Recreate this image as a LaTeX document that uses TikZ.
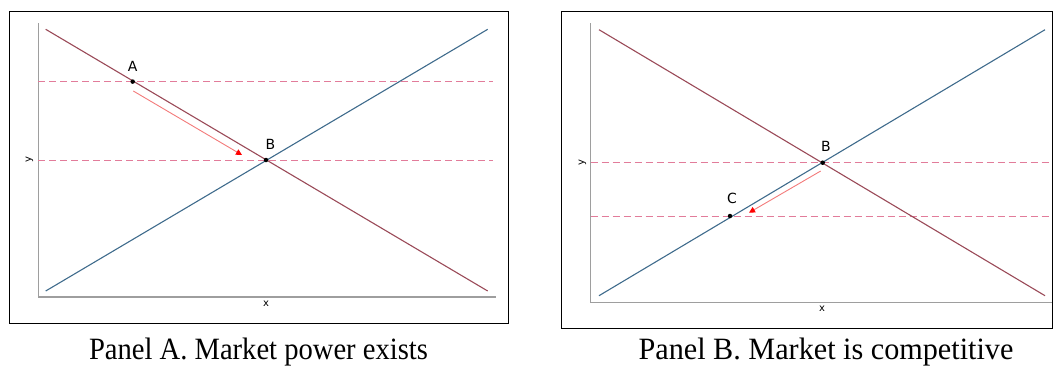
\documentclass[tikz,border=0pt]{standalone}
\usepackage{fontspec}
\setmainfont{Liberation Serif}
\newfontfamily\lblfont{DejaVu Sans}
\usetikzlibrary{arrows.meta}
\definecolor{demand}{HTML}{9A4A58}
\definecolor{supply}{HTML}{3F6B8C}
\definecolor{dashpink}{HTML}{E27C9A}
\definecolor{arrowred}{HTML}{F37A7A}
\tikzset{
  frame/.style={draw=black, line width=1pt},
  axis/.style={draw=black!38, line width=1.4pt},
  dline/.style={draw=demand, line width=1.1pt},
  sline/.style={draw=supply, line width=1.1pt},
  hdash/.style={draw=dashpink, line width=1pt, dash pattern=on 7pt off 4pt},
  move/.style={draw=arrowred, line width=0.9pt, -{Triangle[length=6pt,width=6pt,fill=red,color=red]}},
  dot/.style={circle, fill=black, inner sep=0pt, minimum size=4.5pt},
  ptlabel/.style={font=\lblfont\fontsize{14}{14}\selectfont, anchor=base, inner sep=0pt},
  axlabel/.style={font=\lblfont\fontsize{10}{10}\selectfont, inner sep=0pt},
  caption/.style={font=\fontsize{31}{31}\selectfont, anchor=base, inner sep=0pt}
}
\begin{document}
\begin{tikzpicture}[x=1pt,y=-1pt]
\useasboundingbox (0,0) rectangle (1055,365);
% ---------------- Panel A ----------------
\draw[frame] (9,11) rectangle (508,323);
\coordinate (aO) at (38.3,297);
\coordinate (aYt) at (38.3,23);
\coordinate (aXr) at (496,297);
\draw[axis] (aYt) -- (aO) -- (aXr);
\coordinate (aH1l) at (38.3,81.6);
\coordinate (aH1r) at (492.7,81.6);
\coordinate (aH2l) at (38.3,160);
\coordinate (aH2r) at (492.7,160);
\draw[hdash] (aH1l) -- (aH1r);
\draw[hdash] (aH2l) -- (aH2r);
\coordinate (aD1) at (45.7,29.3);
\coordinate (aD2) at (487.7,291);
\coordinate (aS1) at (45.7,291);
\coordinate (aS2) at (487.7,29.3);
\draw[dline] (aD1) -- (aD2);
\draw[sline] (aS1) -- (aS2);
\node[dot] (A) at (132.7,81.6) {};
\node[dot] (aB) at (266,160) {};
\node[ptlabel] (Alab) at (132.7,71.7) {A};
\node[ptlabel] (aBlab) at (270.3,149.3) {B};
\coordinate (aArS) at (133.3,91);
\coordinate (aArE) at (242,155);
\draw[move] (aArS) -- (aArE);
\node[axlabel] (ax) at (266,303.5) {x};
\node[axlabel, rotate=90] (ay) at (29.5,160) {y};
\node[caption, xscale=0.922] (capA) at (258.5,359) {Panel A. Market power exists};
% ---------------- Panel B ----------------
\draw[frame] (561.3,11) rectangle (1052,328);
\coordinate (bO) at (590.7,302.7);
\coordinate (bYt) at (590.7,23);
\coordinate (bXr) at (1052,302.7);
\draw[axis] (bYt) -- (bO) -- (bXr);
\coordinate (bH1l) at (590.7,162.7);
\coordinate (bH1r) at (1052,162.7);
\coordinate (bH2l) at (590.7,216);
\coordinate (bH2r) at (1052,216);
\draw[hdash] (bH1l) -- (bH1r);
\draw[hdash] (bH2l) -- (bH2r);
\coordinate (bD1) at (599,29.7);
\coordinate (bD2) at (1045,295.7);
\coordinate (bS1) at (599,295.7);
\coordinate (bS2) at (1045,29.7);
\draw[dline] (bD1) -- (bD2);
\draw[sline] (bS1) -- (bS2);
\node[dot] (bB) at (822.7,162.7) {};
\node[dot] (C) at (730,216) {};
\node[ptlabel] (bBlab) at (826,151.7) {B};
\node[ptlabel] (Clab) at (732,203.3) {C};
\coordinate (bArS) at (820.7,171);
\coordinate (bArE) at (749,212.7);
\draw[move] (bArS) -- (bArE);
\node[axlabel] (bx) at (822,309) {x};
\node[axlabel, rotate=90] (by) at (582.3,162.7) {y};
\node[caption, xscale=0.974] (capB) at (826,359.5) {Panel B. Market is competitive};
\end{tikzpicture}
\end{document}
